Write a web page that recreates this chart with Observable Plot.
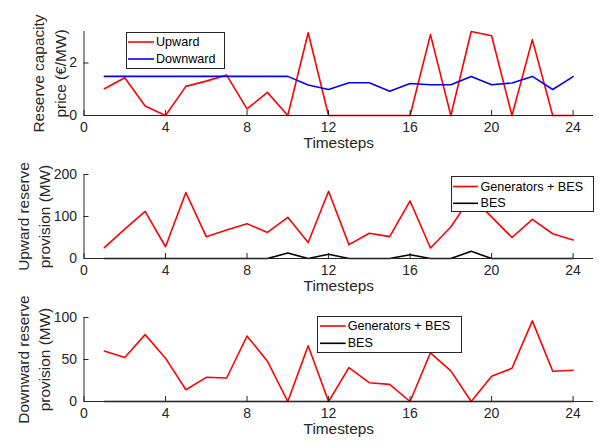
<!DOCTYPE html>
<html>
<head>
<meta charset="utf-8">
<script src="https://cdn.jsdelivr.net/npm/d3@7"></script>
<script src="https://cdn.jsdelivr.net/npm/@observablehq/plot@0.6"></script>
<style>
  html, body { margin: 0; padding: 0; background: #fff; }
  #root { position: relative; width: 601px; height: 447px; overflow: hidden; font-family: "Liberation Sans", Arial, sans-serif; }
  .panel { position: absolute; left: 0; }
  .legend { position: absolute; }
</style>
</head>
<body>
<div id="root"></div>
<script>
// ---- Data ----
const timesteps = [1,2,3,4,5,6,7,8,9,10,11,12,13,14,15,16,17,18,19,20,21,22,23,24];
const xTicks = [0,4,8,12,16,20,24];

const priceUpward   = [1.02,1.44,0.36,0,1.11,1.31,1.54,0.25,0.88,0,3.15,0,0,0,0,0,3.08,0,3.20,3.04,0,2.89,0,0];
const priceDownward = [1.49,1.49,1.49,1.49,1.49,1.49,1.49,1.49,1.49,1.49,1.16,0.99,1.25,1.25,0.92,1.22,1.17,1.17,1.49,1.17,1.24,1.49,0.99,1.48];

const upGenBES = [26,70,112,28,157,52,68,83,62,98,38,160,33,60,52,137,25,75,148,99,50,93,59,44];
const upBES    = [0,0,0,0,0,0,0,0,0,13,0,10,0,0,0,9,0,0,17,0,0,0,0,0];

const downGenBES = [60,52.4,79.6,51.6,14,28.8,28,78,48,0,66.4,0,40.4,22.4,20.4,0,58,36.4,0,30,39.6,96,36,37.2];
const downBES    = [0,0,0,0,0,0,0,0,0,0,0,0,0,0,0,0,0,0,0,0,0,0,0,0];

const panels = [
  {top: 11, yDomain: [0, 3.2], yTicks: [0, 2], yLabel: "Reserve capacity\nprice (€/MW)", labelDx: -36,
   series: [{name: "Upward", values: priceUpward, color: "#ff0000"},
            {name: "Downward", values: priceDownward, color: "#0000ff"}],
   legend: {left: 126, top: 32, width: 98, height: 36, rows: [10, 27], sw: [2, 28], tx: 30}},
  {top: 154, yDomain: [0, 200], yTicks: [0, 100, 200], yLabel: "Upward reserve\nprovision (MW)", labelDx: -51.5,
   series: [{name: "Generators + BES", values: upGenBES, color: "#ff0000"},
            {name: "BES", values: upBES, color: "#000000"}],
   legend: {left: 451, top: 176, width: 142, height: 35, rows: [10.5, 27.3], sw: [2, 27], tx: 29.5}},
  {top: 297, yDomain: [0, 100], yTicks: [0, 50, 100], yLabel: "Downward reserve\nprovision (MW)", labelDx: -51.5,
   series: [{name: "Generators + BES", values: downGenBES, color: "#ff0000"},
            {name: "BES", values: downBES, color: "#000000"}],
   legend: {left: 317, top: 316, width: 144, height: 36, rows: [10, 27.3], sw: [3, 28.7], tx: 30.7}}
];

const root = document.getElementById("root");
const AX = "#262626";

for (const p of panels) {
  const marks = [];
  for (const s of p.series) {
    const data = timesteps.map((t, i) => ({t, v: s.values[i]}));
    marks.push(Plot.line(data, {x: "t", y: "v", stroke: s.color, strokeWidth: 1.6}));
  }
  marks.push(
    Plot.ruleY([p.yDomain[0]], {stroke: AX, strokeWidth: 1}),
    Plot.ruleX([0], {stroke: AX, strokeWidth: 1}),
    // inward tick marks
    Plot.axisX(xTicks, {tickSize: 5, dy: -5, tickFormat: () => "", label: null, stroke: AX}),
    Plot.axisY(p.yTicks, {tickSize: 5, dx: 5, tickFormat: () => "", label: null, stroke: AX}),
    // tick labels
    Plot.axisX(xTicks, {tickSize: 0, tickPadding: 7, label: null, fontSize: 14, fill: AX}),
    Plot.axisY(p.yTicks, {tickSize: 0, tickPadding: 7, label: null, fontSize: 14, fill: AX}),
    Plot.text(["Timesteps"], {frameAnchor: "bottom", dy: 28, fontSize: 15.4, fill: AX, lineAnchor: "middle", textAnchor: "middle"}),
    Plot.text([p.yLabel], {frameAnchor: "left", dx: p.labelDx, rotate: -90, fontSize: 15.4, lineHeight: 1.4, fill: AX, lineAnchor: "middle", textAnchor: "middle"})
  );
  const chart = Plot.plot({
    width: 601,
    height: 150,
    marginLeft: 83.5,
    marginRight: 8,
    marginTop: 20,
    marginBottom: 46,
    style: {fontFamily: "'Liberation Sans', Arial, sans-serif", fontSize: "14px", background: "transparent", overflow: "visible", color: AX},
    x: {domain: [0, 25], axis: null},
    y: {domain: p.yDomain, axis: null},
    marks
  });
  chart.classList.add("panel");
  chart.style.top = p.top + "px";
  chart.style.position = "absolute";
  root.appendChild(chart);

  // legend box
  const L = p.legend;
  const ns = "http://www.w3.org/2000/svg";
  const svg = document.createElementNS(ns, "svg");
  svg.setAttribute("width", L.width + 1);
  svg.setAttribute("height", L.height + 1);
  svg.setAttribute("class", "legend");
  svg.style.left = L.left + "px";
  svg.style.top = L.top + "px";
  const rect = document.createElementNS(ns, "rect");
  rect.setAttribute("x", 0.5); rect.setAttribute("y", 0.5);
  rect.setAttribute("width", L.width); rect.setAttribute("height", L.height);
  rect.setAttribute("fill", "#fff"); rect.setAttribute("stroke", AX); rect.setAttribute("stroke-width", 1);
  svg.appendChild(rect);
  p.series.forEach((s, i) => {
    const ln = document.createElementNS(ns, "line");
    ln.setAttribute("x1", L.sw[0]); ln.setAttribute("x2", L.sw[1]);
    ln.setAttribute("y1", L.rows[i]); ln.setAttribute("y2", L.rows[i]);
    ln.setAttribute("stroke", s.color); ln.setAttribute("stroke-width", 1.6);
    svg.appendChild(ln);
    const tx = document.createElementNS(ns, "text");
    tx.setAttribute("x", L.tx); tx.setAttribute("y", L.rows[i]);
    tx.setAttribute("dominant-baseline", "central");
    tx.setAttribute("font-size", "12.6px");
    tx.setAttribute("font-family", "'Liberation Sans', Arial, sans-serif");
    tx.setAttribute("fill", "#000");
    tx.textContent = s.name;
    svg.appendChild(tx);
  });
  root.appendChild(svg);
}
</script>
</body>
</html>
